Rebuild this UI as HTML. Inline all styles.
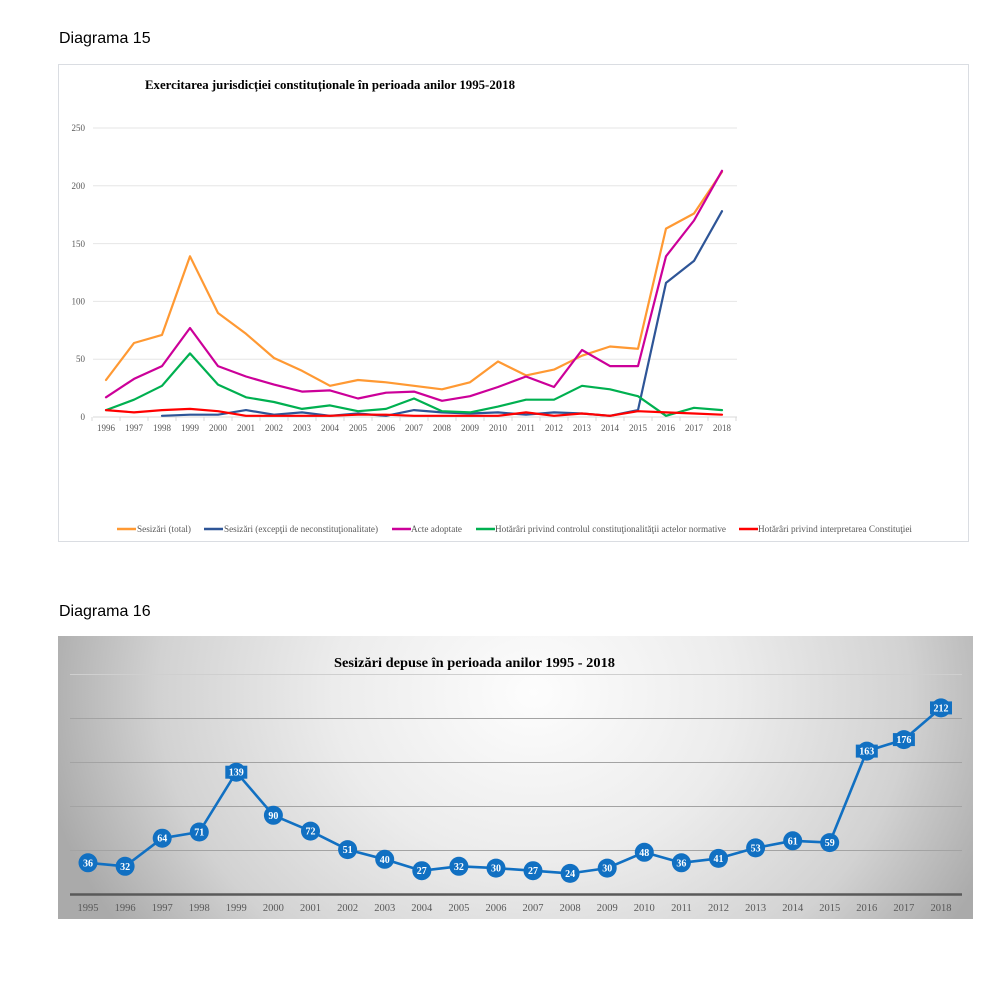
<!DOCTYPE html>
<html><head><meta charset="utf-8"><style>
html,body{margin:0;padding:0;background:#fff;}
body{width:985px;height:985px;position:relative;overflow:hidden;}
#bg2{position:absolute;left:58px;top:636px;width:915px;height:283px;
background:radial-gradient(ellipse 500px 420px at 52% 20%, #fdfdfd 0%, #ececec 40%, #d2d2d2 75%, #aaaaaa 100%);}
svg{position:absolute;left:0;top:0;}
</style></head><body>
<div id="bg2"></div>
<svg width="985" height="985" viewBox="0 0 985 985" xmlns="http://www.w3.org/2000/svg">
<text x="59" y="43" font-family="Liberation Sans, sans-serif" font-size="16" fill="#000">Diagrama 15</text>
<text x="59" y="616" font-family="Liberation Sans, sans-serif" font-size="16" fill="#000">Diagrama 16</text>

<!-- Top chart -->
<rect x="58.5" y="64.5" width="910" height="477" fill="#fff" stroke="#dadde2" stroke-width="1"/>
<text x="145" y="89" font-family="Liberation Serif, serif" font-size="13" font-weight="bold" fill="#000" textLength="370" lengthAdjust="spacingAndGlyphs">Exercitarea  jurisdicției constituționale în perioada anilor 1995-2018</text>
<g stroke="#e6e6e6" stroke-width="1">
<line x1="93" y1="128" x2="737" y2="128"/>
<line x1="93" y1="185.8" x2="737" y2="185.8"/>
<line x1="93" y1="243.6" x2="737" y2="243.6"/>
<line x1="93" y1="301.4" x2="737" y2="301.4"/>
<line x1="93" y1="359.2" x2="737" y2="359.2"/>
</g>
<line x1="93" y1="417" x2="737" y2="417" stroke="#d9d9d9" stroke-width="1"/>
<g stroke="#d9d9d9" stroke-width="1">
<line x1="92" y1="417" x2="92" y2="421"/><line x1="120" y1="417" x2="120" y2="421"/><line x1="148" y1="417" x2="148" y2="421"/><line x1="176" y1="417" x2="176" y2="421"/><line x1="204" y1="417" x2="204" y2="421"/><line x1="232" y1="417" x2="232" y2="421"/><line x1="260" y1="417" x2="260" y2="421"/><line x1="288" y1="417" x2="288" y2="421"/><line x1="316" y1="417" x2="316" y2="421"/><line x1="344" y1="417" x2="344" y2="421"/><line x1="372" y1="417" x2="372" y2="421"/><line x1="400" y1="417" x2="400" y2="421"/><line x1="428" y1="417" x2="428" y2="421"/><line x1="456" y1="417" x2="456" y2="421"/><line x1="484" y1="417" x2="484" y2="421"/><line x1="512" y1="417" x2="512" y2="421"/><line x1="540" y1="417" x2="540" y2="421"/><line x1="568" y1="417" x2="568" y2="421"/><line x1="596" y1="417" x2="596" y2="421"/><line x1="624" y1="417" x2="624" y2="421"/><line x1="652" y1="417" x2="652" y2="421"/><line x1="680" y1="417" x2="680" y2="421"/><line x1="708" y1="417" x2="708" y2="421"/><line x1="736" y1="417" x2="736" y2="421"/>
</g>
<g font-family="Liberation Serif, serif" font-size="9" fill="#595959" text-anchor="end">
<text x="85" y="131">250</text><text x="85" y="189">200</text><text x="85" y="247">150</text><text x="85" y="304.5">100</text><text x="85" y="362">50</text><text x="85" y="420">0</text>
</g>
<g font-family="Liberation Serif, serif" font-size="9" fill="#595959" text-anchor="middle">
<text x="106" y="431">1996</text><text x="134" y="431">1997</text><text x="162" y="431">1998</text><text x="190" y="431">1999</text><text x="218" y="431">2000</text><text x="246" y="431">2001</text><text x="274" y="431">2002</text><text x="302" y="431">2003</text><text x="330" y="431">2004</text><text x="358" y="431">2005</text><text x="386" y="431">2006</text><text x="414" y="431">2007</text><text x="442" y="431">2008</text><text x="470" y="431">2009</text><text x="498" y="431">2010</text><text x="526" y="431">2011</text><text x="554" y="431">2012</text><text x="582" y="431">2013</text><text x="610" y="431">2014</text><text x="638" y="431">2015</text><text x="666" y="431">2016</text><text x="694" y="431">2017</text><text x="722" y="431">2018</text>
</g>
<g fill="none" stroke-width="2.2" stroke-linejoin="round" stroke-linecap="round">
<polyline stroke="#ff9933" points="106,380 134,343 162,334.9 190,256.3 218,313 246,333.8 274,358 302,370.8 330,385.8 358,380 386,382.3 414,385.8 442,389.3 470,382.3 498,361.5 526,375.4 554,369.6 582,355.7 610,346.5 638,348.8 666,228.6 694,213.5 722,171.9"/>
<polyline stroke="#2e5597" points="162,415.8 190,414.7 218,414.7 246,410.1 274,414.7 302,412.4 330,415.8 358,413.5 386,415.8 414,410.1 442,412.4 470,413.5 498,412.4 526,414.7 554,412.4 582,413.5 610,415.8 638,410.1 666,282.9 694,260.9 722,211.2"/>
<polyline stroke="#cc0099" points="106,397.3 134,378.9 162,366.1 190,328 218,366.1 246,376.5 274,384.6 302,391.6 330,390.4 358,398.5 386,392.7 414,391.6 442,400.8 470,396.2 498,387 526,376.5 554,387 582,350 610,366.1 638,366.1 666,256.3 694,220.5 722,170.8"/>
<polyline stroke="#00b050" points="106,410.1 134,399.7 162,385.8 190,353.4 218,384.6 246,397.3 274,402 302,408.9 330,405.4 358,411.2 386,408.9 414,398.5 442,411.2 470,412.4 498,406.6 526,399.7 554,399.7 582,385.8 610,389.3 638,396.2 666,415.8 694,407.8 722,410.1"/>
<polyline stroke="#ff0000" points="106,410.1 134,412.4 162,410.1 190,408.9 218,411.2 246,415.8 274,415.8 302,415.8 330,415.8 358,414.7 386,414.7 414,415.8 442,415.8 470,415.8 498,415.8 526,412.4 554,415.8 582,413.5 610,415.8 638,411.2 666,412.4 694,413.5 722,414.7"/>
</g>
<!-- legend -->
<g stroke-width="2.5">
<line x1="117" y1="529" x2="136" y2="529" stroke="#ff9933"/>
<line x1="204" y1="529" x2="223" y2="529" stroke="#2e5597"/>
<line x1="392" y1="529" x2="411" y2="529" stroke="#cc0099"/>
<line x1="476" y1="529" x2="495" y2="529" stroke="#00b050"/>
<line x1="739" y1="529" x2="758" y2="529" stroke="#ff0000"/>
</g>
<g font-family="Liberation Serif, serif" font-size="9" fill="#595959">
<text x="137" y="532" textLength="54" lengthAdjust="spacingAndGlyphs">Sesizări (total)</text>
<text x="224" y="532" textLength="154" lengthAdjust="spacingAndGlyphs">Sesizări (excepţii de neconstituţionalitate)</text>
<text x="411" y="532" textLength="51" lengthAdjust="spacingAndGlyphs">Acte adoptate</text>
<text x="495" y="532" textLength="231" lengthAdjust="spacingAndGlyphs">Hotărâri privind controlul constituţionalităţii actelor normative</text>
<text x="758" y="532" textLength="154" lengthAdjust="spacingAndGlyphs">Hotărâri privind interpretarea Constituţiei</text>
</g>

<!-- Bottom chart -->
<text x="334" y="667" font-family="Liberation Serif, serif" font-size="14" font-weight="bold" fill="#000" textLength="281" lengthAdjust="spacingAndGlyphs">Sesizări depuse în perioada anilor 1995 - 2018</text>
<line x1="70" y1="674.5" x2="962" y2="674.5" stroke="#cfcfcf" stroke-width="1"/>
<g stroke="#a3a3a3" stroke-width="1">
<line x1="70" y1="718.5" x2="962" y2="718.5"/>
<line x1="70" y1="762.5" x2="962" y2="762.5"/>
<line x1="70" y1="806.5" x2="962" y2="806.5"/>
<line x1="70" y1="850.5" x2="962" y2="850.5"/>
</g>
<line x1="70" y1="894.5" x2="962" y2="894.5" stroke="#595959" stroke-width="2.5"/>
<g font-family="Liberation Serif, serif" font-size="10.5" fill="#595959" text-anchor="middle">
<text x="88" y="911">1995</text><text x="125.1" y="911">1996</text><text x="162.2" y="911">1997</text><text x="199.3" y="911">1998</text><text x="236.3" y="911">1999</text><text x="273.4" y="911">2000</text><text x="310.5" y="911">2001</text><text x="347.6" y="911">2002</text><text x="384.7" y="911">2003</text><text x="421.8" y="911">2004</text><text x="458.9" y="911">2005</text><text x="496" y="911">2006</text><text x="533" y="911">2007</text><text x="570.1" y="911">2008</text><text x="607.2" y="911">2009</text><text x="644.3" y="911">2010</text><text x="681.4" y="911">2011</text><text x="718.5" y="911">2012</text><text x="755.6" y="911">2013</text><text x="792.7" y="911">2014</text><text x="829.7" y="911">2015</text><text x="866.8" y="911">2016</text><text x="903.9" y="911">2017</text><text x="941" y="911">2018</text>
</g>
<polyline fill="none" stroke="#1170c2" stroke-width="2.6" stroke-linejoin="round" points="88,862.8 125.1,866.3 162.2,838.2 199.3,832 236.3,772.2 273.4,815.3 310.5,831.1 347.6,849.6 384.7,859.3 421.8,870.7 458.9,866.3 496,868.1 533,870.7 570.1,873.4 607.2,868.1 644.3,852.3 681.4,862.8 718.5,858.4 755.6,847.9 792.7,840.8 829.7,842.6 866.8,751.1 903.9,739.6 941,707.9"/>
<g fill="#1170c2">
<circle cx="88" cy="862.8" r="9.5"/><circle cx="125.1" cy="866.3" r="9.5"/><circle cx="162.2" cy="838.2" r="9.5"/><circle cx="199.3" cy="832" r="9.5"/><circle cx="236.3" cy="772.2" r="9.5"/><circle cx="273.4" cy="815.3" r="9.5"/><circle cx="310.5" cy="831.1" r="9.5"/><circle cx="347.6" cy="849.6" r="9.5"/><circle cx="384.7" cy="859.3" r="9.5"/><circle cx="421.8" cy="870.7" r="9.5"/><circle cx="458.9" cy="866.3" r="9.5"/><circle cx="496" cy="868.1" r="9.5"/><circle cx="533" cy="870.7" r="9.5"/><circle cx="570.1" cy="873.4" r="9.5"/><circle cx="607.2" cy="868.1" r="9.5"/><circle cx="644.3" cy="852.3" r="9.5"/><circle cx="681.4" cy="862.8" r="9.5"/><circle cx="718.5" cy="858.4" r="9.5"/><circle cx="755.6" cy="847.9" r="9.5"/><circle cx="792.7" cy="840.8" r="9.5"/><circle cx="829.7" cy="842.6" r="9.5"/><circle cx="866.8" cy="751.1" r="9.5"/><circle cx="903.9" cy="739.6" r="9.5"/><circle cx="941" cy="707.9" r="9.5"/>
<rect x="225.3" y="765.7" width="22" height="13"/>
<rect x="855.8" y="744.6" width="22" height="13"/>
<rect x="892.9" y="733.1" width="22" height="13"/>
<rect x="930" y="701.4" width="22" height="13"/>
</g>
<g font-family="Liberation Serif, serif" font-size="10" font-weight="bold" fill="#fff" text-anchor="middle">
<text x="88" y="866.3">36</text><text x="125.1" y="869.8">32</text><text x="162.2" y="841.7">64</text><text x="199.3" y="835.5">71</text><text x="236.3" y="775.7">139</text><text x="273.4" y="818.8">90</text><text x="310.5" y="834.6">72</text><text x="347.6" y="853.1">51</text><text x="384.7" y="862.8">40</text><text x="421.8" y="874.2">27</text><text x="458.9" y="869.8">32</text><text x="496" y="871.6">30</text><text x="533" y="874.2">27</text><text x="570.1" y="876.9">24</text><text x="607.2" y="871.6">30</text><text x="644.3" y="855.8">48</text><text x="681.4" y="866.3">36</text><text x="718.5" y="861.9">41</text><text x="755.6" y="851.4">53</text><text x="792.7" y="844.3">61</text><text x="829.7" y="846.1">59</text><text x="866.8" y="754.6">163</text><text x="903.9" y="743.1">176</text><text x="941" y="711.4">212</text>
</g>
</svg>
</body></html>
